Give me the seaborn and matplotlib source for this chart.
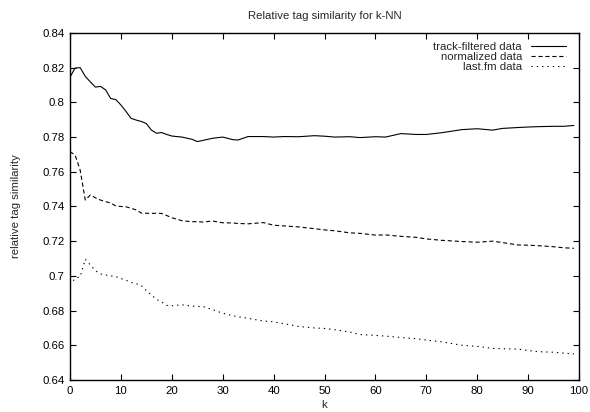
import matplotlib
matplotlib.use("Agg")
import matplotlib.pyplot as plt
from matplotlib.ticker import FuncFormatter, MultipleLocator
import seaborn as sns
import pandas as pd

k = [0, 1, 2, 3, 4, 5, 6, 7, 8, 9, 10, 11, 12, 13, 14, 15, 16, 17, 18, 19, 20,
     22, 24, 25, 26, 28, 30, 32, 33, 35, 38, 40, 42, 45, 48, 50, 52, 55, 57, 60,
     62, 65, 68, 70, 73, 77, 80, 83, 85, 88, 90, 92, 95, 97, 99]

track_filtered = [0.8145, 0.8198, 0.8200, 0.8150, 0.8118, 0.8088, 0.8092, 0.8072, 0.8022, 0.8016,
                  0.7985, 0.7948, 0.7908, 0.7898, 0.7890, 0.7878, 0.7840, 0.7822, 0.7826, 0.7815,
                  0.7806, 0.7800, 0.7787, 0.7774, 0.7780, 0.7793, 0.7800, 0.7785, 0.7783, 0.7803,
                  0.7803, 0.7800, 0.7803, 0.7802, 0.7808, 0.7805, 0.7800, 0.7802, 0.7797, 0.7802,
                  0.7800, 0.7820, 0.7815, 0.7815, 0.7825, 0.7843, 0.7848, 0.7840, 0.7850, 0.7855,
                  0.7858, 0.7860, 0.7862, 0.7862, 0.7867]

normalized = [0.7716, 0.7697, 0.7610, 0.7437, 0.7466, 0.7450, 0.7437, 0.7428, 0.7420, 0.7403,
              0.7400, 0.7398, 0.7390, 0.7380, 0.7362, 0.7361, 0.7360, 0.7361, 0.7360, 0.7348,
              0.7335, 0.7318, 0.7312, 0.7313, 0.7310, 0.7316, 0.7306, 0.7305, 0.7302, 0.7300,
              0.7307, 0.7292, 0.7288, 0.7282, 0.7272, 0.7265, 0.7260, 0.7248, 0.7245, 0.7235,
              0.7236, 0.7228, 0.7222, 0.7213, 0.7205, 0.7198, 0.7194, 0.7200, 0.7192, 0.7178,
              0.7177, 0.7174, 0.7168, 0.7162, 0.7159]

lastfm = [0.6948, 0.6985, 0.6995, 0.7096, 0.7063, 0.7030, 0.7011, 0.7005, 0.7000, 0.6996,
          0.6985, 0.6975, 0.6962, 0.6955, 0.6945, 0.6915, 0.6890, 0.6865, 0.6850, 0.6830,
          0.6828, 0.6833, 0.6826, 0.6823, 0.6825, 0.6805, 0.6785, 0.6770, 0.6765, 0.6755,
          0.6740, 0.6735, 0.6725, 0.6708, 0.6700, 0.6697, 0.6690, 0.6676, 0.6662, 0.6657,
          0.6653, 0.6645, 0.6638, 0.6630, 0.6620, 0.6600, 0.6594, 0.6582, 0.6580, 0.6578,
          0.6570, 0.6563, 0.6560, 0.6555, 0.6550]

labels = ["track-filtered data", "normalized data", "last.fm data"]
x_ticks = list(range(0, 101, 10))

sns.set_theme(style="ticks")
plt.rcParams['font.family'] = ['Liberation Sans', 'DejaVu Sans']
FS = 8.2

fig = plt.figure(figsize=(5.9, 4.12), dpi=100)
ax = fig.add_axes([0.1186, 0.0777, 0.8628, 0.8423])

series = [track_filtered, normalized, lastfm]
styles = ["-", (0, (3.75, 2.5)), (0, (1.2, 3.6))]
for lab, vals, ls in zip(labels, series, styles):
    df = pd.DataFrame({"k": k, "v": vals})
    sns.lineplot(data=df, x="k", y="v", ax=ax, color="black", linewidth=0.8,
                 linestyle=ls, label=lab)

ax.set_xlim(0, 100)
ax.set_ylim(0.64, 0.84)
ax.set_xticks(x_ticks)
ax.yaxis.set_major_locator(MultipleLocator(0.02))
ax.yaxis.set_major_formatter(FuncFormatter(lambda v, p: "%g" % round(v, 4)))
ax.tick_params(direction="in", length=4, width=0.8, top=True, right=True,
               labelsize=FS, colors="black", pad=4)
for s in ax.spines.values():
    s.set_linewidth(1.0)
    s.set_color("black")

ax.set_xlabel("k", fontsize=FS, labelpad=3)
ax.set_ylabel("relative tag similarity", fontsize=FS, labelpad=15)
ax.set_title("Relative tag similarity for k-NN", fontsize=FS, pad=10)

leg = ax.legend(loc="upper right", bbox_to_anchor=(1.0, 1.009), frameon=False,
                markerfirst=False, fontsize=FS,
                handlelength=3.1, handletextpad=0.8, labelspacing=0.0,
                borderaxespad=0.7)

fig.savefig("out.png", dpi=100)
